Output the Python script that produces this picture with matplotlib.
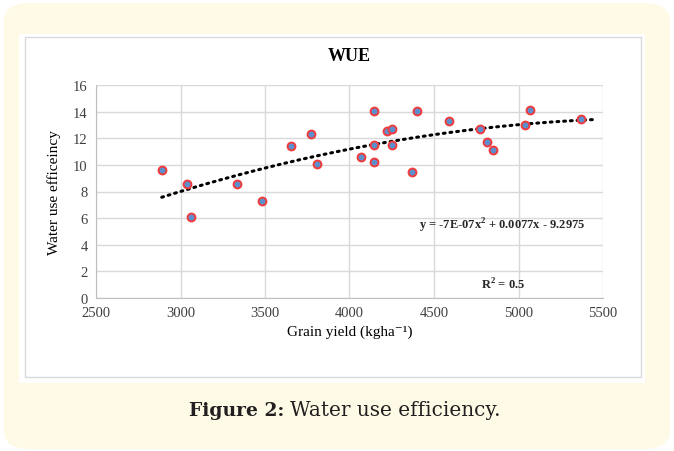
import numpy as np
import matplotlib
matplotlib.use('Agg')
import matplotlib.pyplot as plt
from matplotlib.patches import FancyBboxPatch, Rectangle

# grain yield (kg/ha) and water use efficiency
grain_yield = [2889, 3038, 3062, 3334, 3484, 3656, 3774, 3806, 4071, 4146,
               4146, 4146, 4220, 4251, 4251, 4370, 4399, 4591, 4772, 4815,
               4847, 5040, 5068, 5368]
wue = [9.6, 8.57, 6.07, 8.57, 7.32, 11.43, 12.3, 10.08, 10.62, 14.04,
       11.5, 10.25, 12.54, 12.68, 11.5, 9.45, 14.04, 13.3, 12.68, 11.73,
       11.1, 13.0, 14.11, 13.48]
x_ticks = [2500, 3000, 3500, 4000, 4500, 5000, 5500]
y_ticks = [0, 2, 4, 6, 8, 10, 12, 14, 16]
trend_end = 5450

serif = 'Liberation Serif'

fig = plt.figure(figsize=(6.74, 4.52), dpi=100)
fig.patch.set_facecolor('white')

# cream rounded panel behind everything
panel = FancyBboxPatch((4 / 674, 2 / 452), 666 / 674, 446 / 452,
                       boxstyle='round,pad=0,rounding_size=0.04',
                       transform=fig.transFigure, facecolor='#fefae6',
                       edgecolor='none', zorder=0)
fig.patches.append(panel)
# white chart area with thin gray frame
fig.patches.append(Rectangle((19 / 674, 1 - 384 / 452), 626 / 674, 349 / 452,
                             transform=fig.transFigure, facecolor='white',
                             edgecolor='none', zorder=1))
fig.patches.append(Rectangle((24.5 / 674, 1 - 378 / 452), 616 / 674, 340 / 452,
                             transform=fig.transFigure, facecolor='white',
                             edgecolor='#d9d9d9', lw=1, zorder=2))

ax = fig.add_axes([96 / 674, 1 - 299 / 452, 507 / 674, 213 / 452])
ax.set_zorder(3)
ax.set_facecolor('none')

ax.set_xlim(2500, 5500)
ax.set_ylim(0, 16)
ax.set_xticks(x_ticks)
ax.set_yticks(y_ticks)
ax.grid(True, color='#d9d9d9', lw=1)
ax.set_axisbelow(True)
for s in ['top', 'right']:
    ax.spines[s].set_visible(False)
for s in ['left', 'bottom']:
    ax.spines[s].set_color('#bfbfbf')
ax.tick_params(length=0, labelsize=10.5, colors='#404040', pad=6)
for lbl in ax.get_xticklabels() + ax.get_yticklabels():
    lbl.set_fontfamily(serif)

# polynomial trendline (order 2)
coef = np.polyfit(grain_yield, wue, 2)
xs = np.linspace(min(grain_yield), trend_end, 200)
ax.plot(xs, np.polyval(coef, xs), color='black', lw=2.2,
        linestyle=(0, (0.6, 1.6)), dash_capstyle='round', zorder=3)

ax.scatter(grain_yield, wue, s=32, facecolor='#5b8fce', edgecolor='#f03c3c',
           linewidth=1.4, zorder=4)

ax.set_title('WUE', fontfamily=serif, fontweight='bold', fontsize=13,
             pad=18)
ax.set_xlabel('Grain yield (kgha\u207b\u00b9)', family=[serif, 'DejaVu Serif'],
              fontsize=11, labelpad=4)
ax.set_ylabel('Water use efficeincy', fontfamily=serif, fontsize=11,
              labelpad=9)

ax.text(502 / 674, 1 - 226 / 452, 'y = -7E-07x$^{\\mathregular{2}}$ + 0.0077x - 9.2975',
        transform=fig.transFigure, ha='center', va='center',
        fontfamily=serif, fontweight='bold', fontsize=9, color='#262626')
ax.text(503 / 674, 1 - 285 / 452, 'R$^{\\mathregular{2}}$ = 0.5',
        transform=fig.transFigure, ha='center', va='center',
        fontfamily=serif, fontweight='bold', fontsize=9, color='#262626')

fig.text(284 / 674, 1 - 411 / 452, 'Figure 2:', ha='right', va='center',
         fontfamily='DejaVu Serif', fontweight='bold', fontsize=13.5,
         color='#231f20')
fig.text(290 / 674, 1 - 411 / 452, 'Water use efficiency.', ha='left',
         va='center', fontfamily='DejaVu Serif', fontsize=14.4, color='#231f20')

fig.savefig('out.png', dpi=100)
